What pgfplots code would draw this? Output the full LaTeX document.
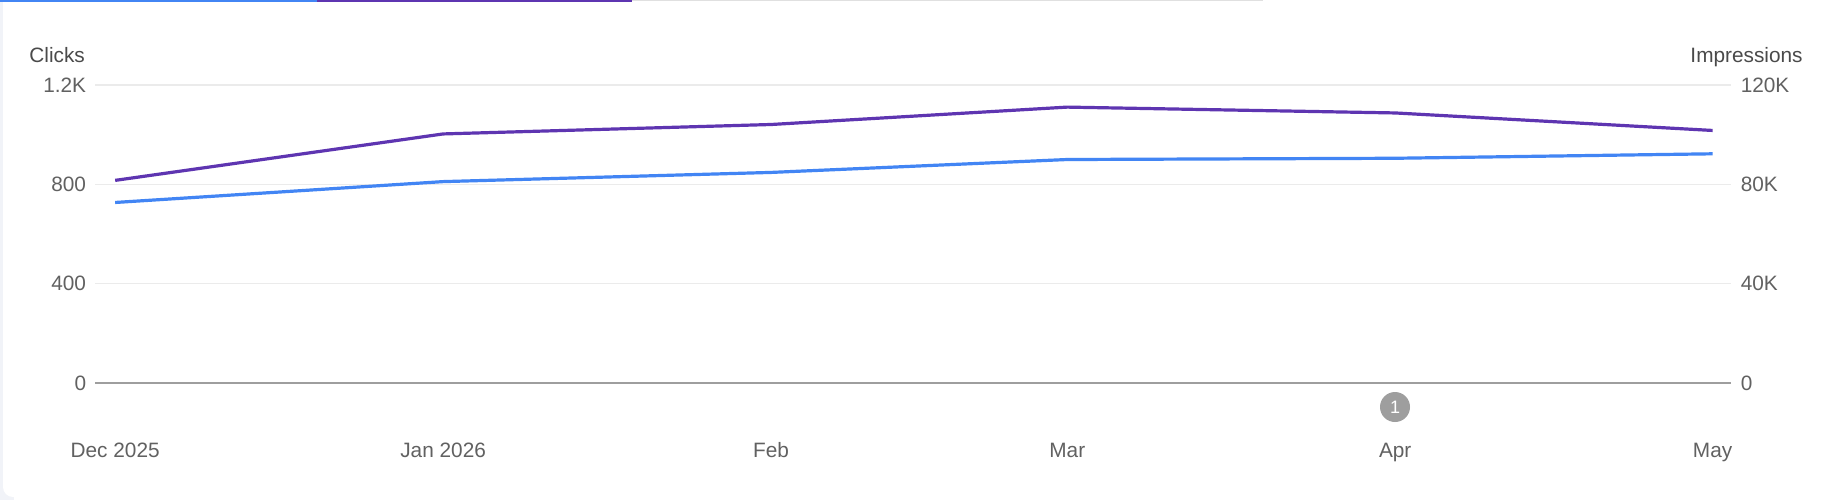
\documentclass[border=0pt]{standalone}
\usepackage{pgfplots}
\pgfplotsset{compat=1.18}
\usepackage{fontspec}
\setmainfont{Liberation Sans}
\definecolor{clickblue}{HTML}{4285F4}
\definecolor{imppurple}{HTML}{5E35B1}
\definecolor{gridc}{HTML}{EBEBEB}
\definecolor{zeroc}{HTML}{9E9E9E}
\definecolor{txt}{HTML}{616161}
\definecolor{titletxt}{HTML}{4A4A4A}
\definecolor{bgc}{HTML}{F1F3F8}
\definecolor{tabgray}{HTML}{E0E0E0}
\begin{document}
\fontsize{10.4}{12.5}\selectfont
\begin{tikzpicture}[font=\fontsize{10.4}{12.5}\selectfont]
\useasboundingbox (0,0) rectangle (912.5pt,-250pt);
\fill[bgc] (0,0) rectangle (7pt,-250pt);
\fill[white, rounded corners=5pt] (1.5pt,4pt) rectangle (920pt,-248.5pt);
\fill[white] (7pt,-240pt) rectangle (912.5pt,-250pt);
% tabs
\fill[clickblue] (0,0) rectangle (158.5pt,-1.2pt);
\fill[imppurple] (158.5pt,0) rectangle (316pt,-1.2pt);
\fill[tabgray] (316pt,0) rectangle (631.5pt,-0.6pt);
\begin{axis}[
  at={(47.7pt,-191.5pt)}, anchor=south west,
  width=818pt, height=149pt, scale only axis,
  xmin=-1.87, xmax=152.78, ymin=0, ymax=1200,
  axis line style={draw=none},
  major tick length=0pt,
  tick label style={font=\fontsize{10.4}{12.5}\selectfont},
  xtick={0,31,62,90,121,151},
  xticklabels={Dec 2025,Jan 2026,Feb,Mar,Apr,May},
  xticklabel style={anchor=base, yshift=-37pt, text=txt},
  ytick={400,800,1200},
  yticklabels={400,800,1.2K},
  extra y ticks={0}, extra y tick labels={0},
  extra y tick style={grid style={color=zeroc, line width=1pt}},
  yticklabel style={text=txt, xshift=-1pt},
  ymajorgrids,
  grid style={color=gridc, line width=0.7pt},
  /pgf/number format/assume math mode=true,
  clip=false,
]
\addplot[clickblue, line width=1.6pt] coordinates {
  (0,727) (31,811) (62,848) (90,900) (121,905) (151,923)
};
\end{axis}
\begin{axis}[
  at={(47.7pt,-191.5pt)}, anchor=south west,
  width=818pt, height=149pt, scale only axis,
  xmin=-1.87, xmax=152.78, ymin=0, ymax=120000,
  axis line style={draw=none},
  axis y line*=right,
  hide x axis,
  major tick length=0pt,
  tick label style={font=\fontsize{10.4}{12.5}\selectfont},
  ytick={0,40000,80000,120000},
  yticklabels={0,40K,80K,120K},
  yticklabel style={text=txt, xshift=1pt},
  scaled y ticks=false,
  /pgf/number format/assume math mode=true,
  clip=false,
]
\addplot[imppurple, line width=1.6pt] coordinates {
  (0,81600) (31,100300) (62,104100) (90,111100) (121,108750) (151,101700)
};
\end{axis}
\node[anchor=base west, text=titletxt, inner sep=0pt] at (14.5pt,-31pt) {Clicks};
\node[anchor=base east, text=titletxt, inner sep=0pt] at (901.5pt,-31pt) {Impressions};
\fill[zeroc] (697.5pt,-203.5pt) circle (7.5pt);
\node[text=white, font=\fontsize{9}{10}\selectfont, inner sep=0pt] at (697.5pt,-203.5pt) {1};
\end{tikzpicture}
\end{document}
